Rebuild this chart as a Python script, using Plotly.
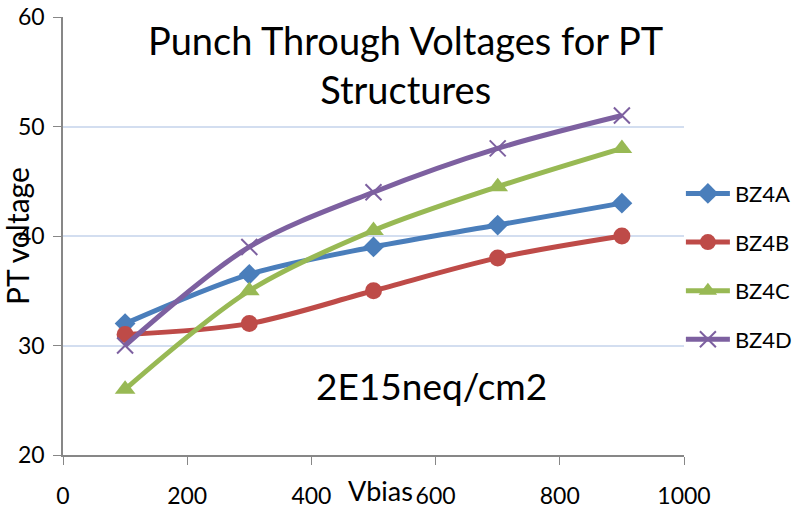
import plotly.graph_objects as go

# Bias voltages (V) and measured punch-through voltages per structure
vbias = [100, 300, 500, 700, 900]
bz4a = [32, 36.5, 39, 41, 43]
bz4b = [31, 32, 35, 38, 40]
bz4c = [26, 35, 40.5, 44.5, 48]
bz4d = [30, 39, 44, 48, 51]

x_ticks = [0, 200, 400, 600, 800, 1000]
y_ticks = [20, 30, 40, 50, 60]

FONT = "Lato"

series = [
    ("BZ4A", bz4a, "#4A7EBB", dict(symbol="diamond", size=16)),
    ("BZ4B", bz4b, "#BE4B48", dict(symbol="circle", size=17)),
    ("BZ4C", bz4c, "#98B954", dict(symbol="triangle-up", size=18)),
    ("BZ4D", bz4d, "#7D60A0", dict(symbol="x-thin", size=16,
                                    line=dict(width=2, color="#7D60A0"))),
]

fig = go.Figure()
for name, vals, color, marker in series:
    fig.add_trace(go.Scatter(
        x=vbias, y=vals, name=name, legendgroup=name,
        mode="lines+markers",
        line=dict(color=color, width=5, shape="spline", smoothing=0.9),
        marker=dict(color=color, **marker),
    ))

axis_common = dict(
    showline=True, linecolor="#878787", linewidth=1.5,
    ticks="outside", ticklen=8, tickcolor="#878787",
    tickfont=dict(size=23), zeroline=False, automargin=False,
)

fig.update_layout(
    width=798, height=509,
    margin=dict(l=63, r=114, t=17, b=54, autoexpand=False),
    paper_bgcolor="white", plot_bgcolor="white",
    font=dict(family=FONT, size=22, color="black"),
    showlegend=True,
    legend=dict(x=0.995, xanchor="left", y=0.43, yanchor="middle",
                font=dict(size=22), tracegroupgap=17, itemwidth=44,
                bgcolor="rgba(0,0,0,0)"),
    xaxis=dict(range=[0, 1000], tickvals=x_ticks, showgrid=False,
               ticklabelstandoff=12, **axis_common),
    yaxis=dict(range=[20, 60], tickvals=y_ticks, showgrid=True,
               gridcolor="#D3DEF0", gridwidth=1.5,
               ticklabelstandoff=4, **axis_common),
    annotations=[
        dict(text="Punch Through Voltages for PT<br>Structures",
             xref="paper", yref="paper", x=0.552, y=1.004,
             xanchor="center", yanchor="top", showarrow=False,
             font=dict(size=38)),
        dict(text="2E15neq/cm2", xref="paper", yref="paper",
             x=0.594, y=0.158, xanchor="center", yanchor="middle",
             showarrow=False, font=dict(size=37)),
        dict(text="PT voltage", xref="paper", yref="paper",
             x=-0.074, y=0.50, xanchor="center", yanchor="middle",
             textangle=-90, showarrow=False, font=dict(size=30)),
        dict(text="Vbias", xref="paper", yref="paper",
             x=0.512, y=-0.082, xanchor="center", yanchor="middle",
             showarrow=False, font=dict(size=27)),
    ],
)

fig.write_html("out.html")
